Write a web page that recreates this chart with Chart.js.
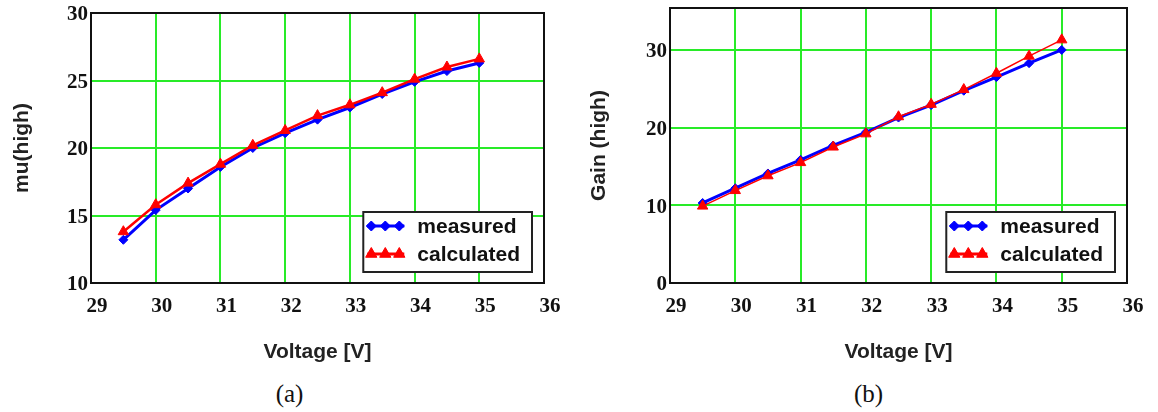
<!DOCTYPE html>
<html>
<head>
<meta charset="utf-8">
<title>mu and gain vs voltage</title>
<script src="https://cdn.jsdelivr.net/npm/chart.js@4.4.0/dist/chart.umd.min.js"></script>
<style>
  html, body { margin: 0; padding: 0; background: #fff; }
  #wrap { position: relative; width: 1158px; height: 412px; }
  .panel { position: absolute; top: 0; width: 579px; height: 412px; }
  .box { position: absolute; left: 0; top: 0; width: 579px; height: 370px; }
  .caption {
    position: absolute; top: 380px; left: 0; width: 579px; text-align: center;
    font-family: "Liberation Serif", "DejaVu Serif", serif; font-size: 25px; color: #111;
  }
</style>
</head>
<body>
<div id="wrap">
  <div class="panel" style="left:0">
    <div class="box"><canvas id="chartMu"></canvas></div>
    <div class="caption">(a)</div>
  </div>
  <div class="panel" style="left:579px">
    <div class="box"><canvas id="chartGain"></canvas></div>
    <div class="caption">(b)</div>
  </div>
</div>
<script>
// Values
const voltage = [29.5, 30, 30.5, 31, 31.5, 32, 32.5, 33, 33.5, 34, 34.5, 35];

const muMeasured   = [13.2, 15.4, 17.0, 18.6, 20.0, 21.1, 22.1, 23.0, 24.0, 24.9, 25.7, 26.3];
const muCalculated = [13.8, 15.8, 17.4, 18.8, 20.2, 21.3, 22.4, 23.2, 24.1, 25.1, 26.0, 26.6];

const gainMeasured   = [10.3, 12.2, 14.1, 15.85, 17.7, 19.4, 21.3, 22.9, 24.75, 26.5, 28.3, 30.0];
const gainCalculated = [9.9, 11.9, 13.8, 15.5, 17.5, 19.2, 21.4, 23.0, 24.9, 27.0, 29.2, 31.3];

const xTicks = [29, 30, 31, 32, 33, 34, 35, 36];
const muTicks = [10, 15, 20, 25, 30];
const gainTicks = [0, 10, 20, 30];

const seriesLabels = ['measured', 'calculated'];

const GRID_GREEN = 'rgb(40, 235, 40)';
const TICK_FONT = { family: '"Liberation Serif", "Times New Roman", serif', size: 21, weight: 'bold' };
const TITLE_FONT = { family: '"Liberation Sans", Arial, sans-serif', size: 21, weight: 'bold' };

// pair up x and y arrays for a linear x axis
function pairs(xs, ys) {
    return xs.map((x, i) => ({ x: x, y: ys[i] }));
}

// black frame round the plot area
const framePlugin = {
    id: 'frame',
    afterDatasetsDraw(chart) {
        const a = chart.chartArea;
        const ctx = chart.ctx;
        ctx.save();
        ctx.strokeStyle = '#111';
        ctx.lineWidth = 2;
        ctx.strokeRect(a.left, a.top, a.right - a.left, a.bottom - a.top);
        ctx.restore();
    }
};

// legend box drawn inside the lower right corner of the plot
const boxLegendPlugin = {
    id: 'boxLegend',
    afterDraw(chart) {
        const ctx = chart.ctx;
        const a = chart.chartArea;
        const sets = chart.data.datasets;
        ctx.save();
        ctx.font = 'bold 21px "Liberation Sans", Arial, sans-serif';
        const textW = Math.max(...sets.map(d => ctx.measureText(d.label).width));
        const w = 54 + textW + 12;
        const h = 60;
        const x = a.right - 12 - w;
        const y = a.bottom - 11 - h;
        ctx.fillStyle = '#fff';
        ctx.fillRect(x, y, w, h);
        ctx.strokeStyle = '#222';
        ctx.lineWidth = 2;
        ctx.strokeRect(x, y, w, h);

        sets.forEach((d, i) => {
            const cy = y + 14 + i * 28;
            ctx.strokeStyle = d.borderColor;
            ctx.fillStyle = d.borderColor;
            ctx.lineWidth = 3;
            ctx.beginPath();
            ctx.moveTo(x + 4, cy);
            ctx.lineTo(x + 41, cy);
            ctx.stroke();
            [x + 8, x + 22, x + 36].forEach(px => {
                ctx.lineWidth = 1;
                Chart.helpers.drawPoint(ctx, {
                    pointStyle: d.pointStyle, radius: d.pointRadius + 0.5,
                    borderWidth: 1, rotation: 0
                }, px, cy);
            });
            ctx.fillStyle = '#111';
            ctx.textBaseline = 'middle';
            ctx.textAlign = 'left';
            ctx.fillText(d.label, x + 54, cy + 1);
        });
        ctx.restore();
    }
};

function makeChart(canvasId, cfg) {
    const ctx = document.getElementById(canvasId).getContext('2d');
    return new Chart(ctx, {
        type: 'line',
        data: {
            datasets: [
                {
                    label: seriesLabels[0],
                    data: pairs(voltage, cfg.measured),
                    borderColor: '#0000ff',
                    backgroundColor: '#0000ff',
                    borderWidth: 3,
                    pointStyle: 'rectRot',
                    pointRadius: 4.5,
                    pointBorderWidth: 1,
                    tension: 0,
                    order: 2
                },
                {
                    label: seriesLabels[1],
                    data: pairs(voltage, cfg.calculated),
                    borderColor: '#ff0000',
                    backgroundColor: '#ff0000',
                    borderWidth: cfg.calcWidth,
                    pointStyle: 'triangle',
                    pointRadius: 6,
                    pointBorderWidth: 1,
                    tension: 0,
                    order: 1
                }
            ]
        },
        options: {
            responsive: true,
            maintainAspectRatio: false,
            animation: false,
            layout: { padding: { top: cfg.top, right: cfg.right, left: 0, bottom: 0 } },
            plugins: {
                legend: { display: false },
                tooltip: { enabled: false }
            },
            scales: {
                x: {
                    type: 'linear',
                    min: 29,
                    max: 36,
                    afterBuildTicks: (scale) => { scale.ticks = xTicks.map(v => ({ value: v })); },
                    afterFit: (scale) => {
                        scale.height = 87;
                        scale.paddingLeft = 0;
                        scale.paddingRight = 0;
                    },
                    grid: { color: GRID_GREEN, lineWidth: 2, drawTicks: false },
                    border: { display: false },
                    ticks: { color: '#111', font: TICK_FONT, padding: 11, labelOffset: 6, maxRotation: 0 },
                    title: {
                        display: true, text: 'Voltage [V]', color: '#222', font: TITLE_FONT,
                        padding: { top: 0, bottom: 5 }
                    }
                },
                y: {
                    min: cfg.yMin,
                    max: cfg.yMax,
                    afterBuildTicks: (scale) => { scale.ticks = cfg.yTicks.map(v => ({ value: v })); },
                    afterFit: (scale) => {
                        scale.width = 91;
                        scale.paddingTop = 0;
                        scale.paddingBottom = 0;
                    },
                    grid: { color: GRID_GREEN, lineWidth: 2, drawTicks: false },
                    border: { display: false },
                    ticks: { color: '#111', font: TICK_FONT, padding: 3, labelOffset: 2 },
                    title: {
                        display: true, text: cfg.yTitle, color: '#222', font: TITLE_FONT,
                        padding: { top: cfg.titlePad, bottom: 0 }
                    }
                }
            }
        },
        plugins: [framePlugin, boxLegendPlugin]
    });
}

makeChart('chartMu', {
    measured: muMeasured,
    calculated: muCalculated,
    calcWidth: 2.5,
    yMin: 10, yMax: 30, yTicks: muTicks,
    yTitle: 'mu(high)',
    titlePad: 10,
    top: 13, right: 35
});

makeChart('chartGain', {
    measured: gainMeasured,
    calculated: gainCalculated,
    calcWidth: 1.5,
    yMin: 0, yMax: 35.4, yTicks: gainTicks,
    yTitle: 'Gain (high)',
    titlePad: 8,
    top: 8, right: 31
});
</script>
</body>
</html>
